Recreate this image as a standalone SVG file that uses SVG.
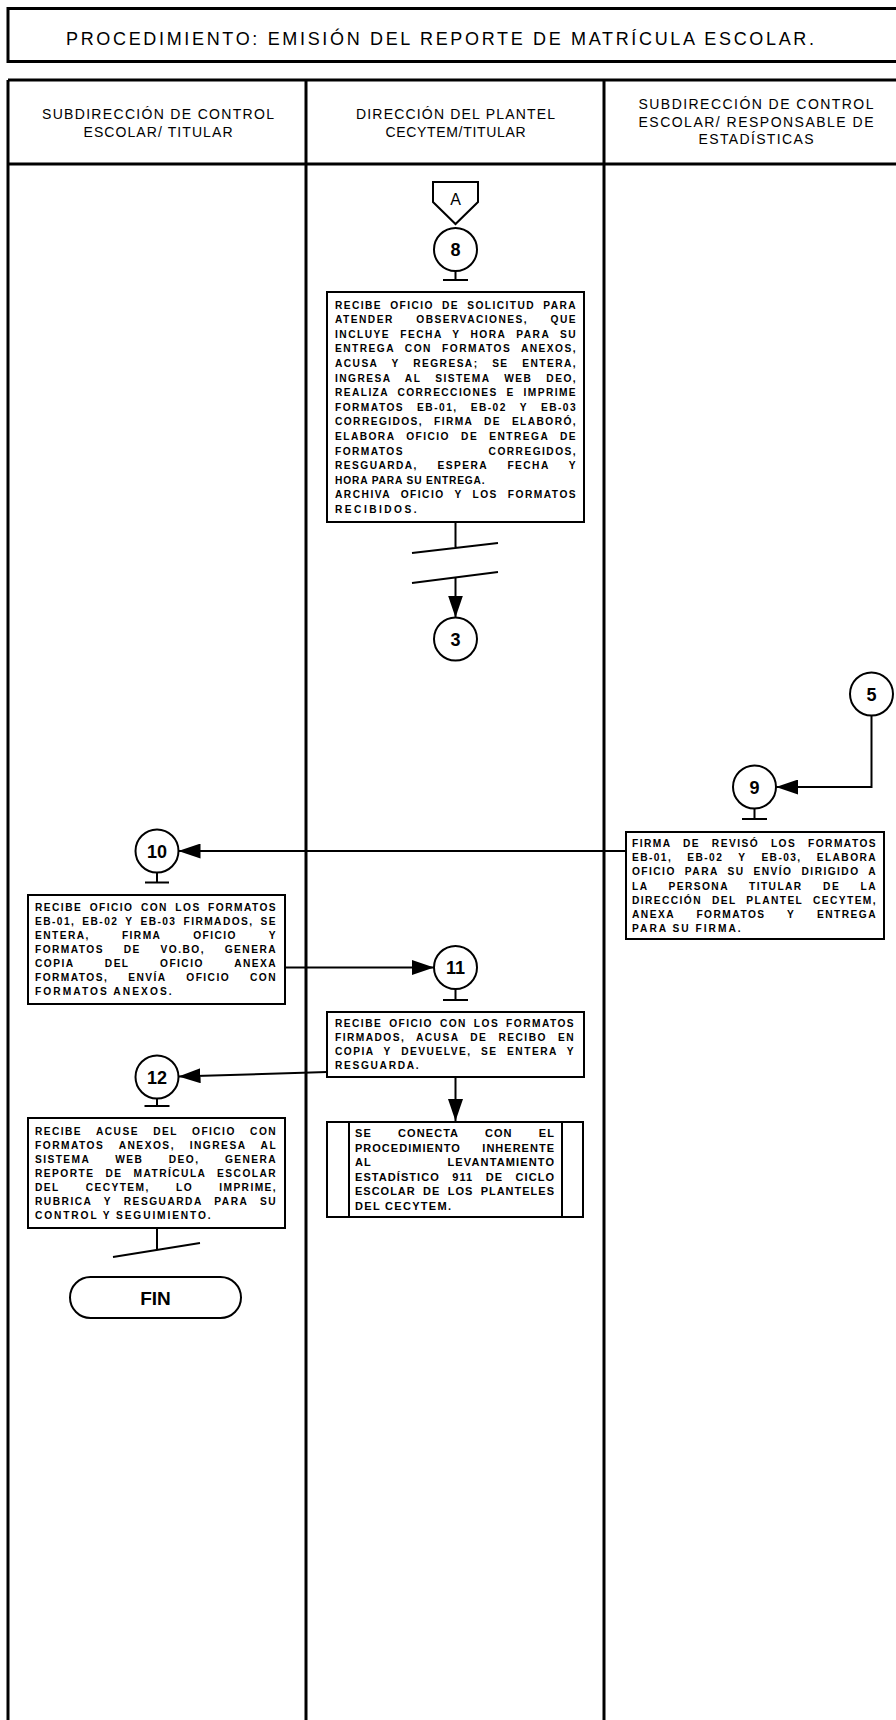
<svg xmlns="http://www.w3.org/2000/svg" width="896" height="1720" viewBox="0 0 896 1720">
<defs>
<style>
.lane{stroke:#000;stroke-width:3;fill:none}
.box{fill:#fff;stroke:#000;stroke-width:2}
.cir{fill:#fff;stroke:#000;stroke-width:2}
.ln{stroke:#000;stroke-width:2;fill:none}
.t{font-family:"Liberation Sans",Arial,sans-serif;font-weight:bold;font-size:10.2px;letter-spacing:1.4px;fill:#000}
.t2{font-family:"Liberation Sans",Arial,sans-serif;font-weight:bold;font-size:11px;letter-spacing:1px;fill:#000}
.num{font-family:"Liberation Sans",Arial,sans-serif;font-weight:bold;font-size:18px;text-anchor:middle;fill:#000}
.hd{font-family:"Liberation Sans",Arial,sans-serif;font-size:14px;text-anchor:middle;fill:#000}
.ttl{font-family:"Liberation Sans",Arial,sans-serif;font-size:18px;text-anchor:middle;fill:#000}
</style>
<marker id="arr" markerUnits="userSpaceOnUse" markerWidth="22" markerHeight="15" refX="22" refY="7.5" orient="auto">
<path d="M0,0 L22,7.5 L0,15 Z" fill="#000"/>
</marker>
</defs>
<rect width="896" height="1720" fill="#fff"/>

<g id="title">
<rect class="lane" x="8" y="8.5" width="900" height="53"/>
<text class="ttl" x="440" y="45" textLength="748" lengthAdjust="spacing">PROCEDIMIENTO: EMISIÓN DEL REPORTE DE MATRÍCULA ESCOLAR.</text>
</g>

<g id="lanes">
<path class="lane" d="M8,80 H900 M8,164 H900 M8,80 V1720 M306,80 V1720 M604,80 V1720"/>
<text class="hd" x="158" y="119" textLength="232" lengthAdjust="spacing">SUBDIRECCIÓN DE CONTROL</text>
<text class="hd" x="158" y="136.6" textLength="149" lengthAdjust="spacing">ESCOLAR/ TITULAR</text>
<text class="hd" x="455.5" y="119" textLength="199" lengthAdjust="spacing">DIRECCIÓN DEL PLANTEL</text>
<text class="hd" x="455.5" y="136.6" textLength="140" lengthAdjust="spacing">CECYTEM/TITULAR</text>
<text class="hd" x="756" y="109.2" textLength="235" lengthAdjust="spacing">SUBDIRECCIÓN DE CONTROL</text>
<text class="hd" x="756" y="126.7" textLength="235" lengthAdjust="spacing">ESCOLAR/ RESPONSABLE DE</text>
<text class="hd" x="756" y="144.3" textLength="115" lengthAdjust="spacing">ESTADÍSTICAS</text>
</g>

<g id="connectors">
<path class="ln" d="M455.5,271 V280 M443,280 H468"/>
<path class="ln" d="M455.5,522 V548 M412,553 L498,543 M412,583 L498,572"/>
<path class="ln" d="M455.5,578 V617.5" marker-end="url(#arr)"/>
<path class="ln" d="M871.5,715.5 V787 H776" marker-end="url(#arr)"/>
<path class="ln" d="M754.5,808.5 V819 M742,819 H767"/>
<path class="ln" d="M626,851 H178.5" marker-end="url(#arr)"/>
<path class="ln" d="M157,872.5 V882.5 M145,882.5 H169"/>
<path class="ln" d="M285,967.5 H434" marker-end="url(#arr)"/>
<path class="ln" d="M455.5,989 V1000 M443,1000 H468"/>
<path class="ln" d="M327,1072 L178.5,1076.5" marker-end="url(#arr)"/>
<path class="ln" d="M157,1098.5 V1106 M144.5,1106 H169.5"/>
<path class="ln" d="M455.5,1077 V1121" marker-end="url(#arr)"/>
<path class="ln" d="M157,1228 V1249 M113,1257 L200,1243"/>
</g>

<g id="nodeA">
<path class="cir" d="M433,182 H478 V202 L455.5,224 L433,202 Z"/>
<text x="455.5" y="205" font-family="Liberation Sans, Arial, sans-serif" font-size="16" text-anchor="middle">A</text>
</g>

<g id="node8">
<circle class="cir" cx="455.5" cy="249.5" r="21.5"/>
<text class="num" x="455.5" y="256">8</text>
</g>

<g id="box8">
<rect class="box" x="327" y="292" width="257" height="230"/>
<text class="t" x="335" y="308.5" textLength="242" lengthAdjust="spacing" word-spacing="3.9">RECIBE OFICIO DE SOLICITUD PARA</text>
<text class="t" x="335" y="323.1" textLength="242" lengthAdjust="spacing" word-spacing="18.2">ATENDER OBSERVACIONES, QUE</text>
<text class="t" x="335" y="337.7" textLength="242" lengthAdjust="spacing" word-spacing="5.8">INCLUYE FECHA Y HORA PARA SU</text>
<text class="t" x="335" y="352.3" textLength="242" lengthAdjust="spacing" word-spacing="5.9">ENTREGA CON FORMATOS ANEXOS,</text>
<text class="t" x="335" y="366.9" textLength="242" lengthAdjust="spacing" word-spacing="9.4">ACUSA Y REGRESA; SE ENTERA,</text>
<text class="t" x="335" y="381.5" textLength="242" lengthAdjust="spacing" word-spacing="9.7">INGRESA AL SISTEMA WEB DEO,</text>
<text class="t" x="335" y="396.1" textLength="242" lengthAdjust="spacing" word-spacing="4.6">REALIZA CORRECCIONES E IMPRIME</text>
<text class="t" x="335" y="410.7" textLength="242" lengthAdjust="spacing" word-spacing="8.8">FORMATOS EB-01, EB-02 Y EB-03</text>
<text class="t" x="335" y="425.3" textLength="242" lengthAdjust="spacing" word-spacing="6.7">CORREGIDOS, FIRMA DE ELABORÓ,</text>
<text class="t" x="335" y="439.9" textLength="242" lengthAdjust="spacing" word-spacing="6.9">ELABORA OFICIO DE ENTREGA DE</text>
<text class="t" x="335" y="454.5" textLength="242" lengthAdjust="spacing" word-spacing="80.3">FORMATOS CORREGIDOS,</text>
<text class="t" x="335" y="469.1" textLength="242" lengthAdjust="spacing" word-spacing="15.4">RESGUARDA, ESPERA FECHA Y</text>
<text class="t" x="335" y="483.7" textLength="151" lengthAdjust="spacing">HORA PARA SU ENTREGA.</text>
<text class="t" x="335" y="498.3" textLength="242" lengthAdjust="spacing" word-spacing="5.6">ARCHIVA OFICIO Y LOS FORMATOS</text>
<text class="t" x="335" y="512.9" textLength="83" lengthAdjust="spacing">RECIBIDOS.</text>
</g>

<g id="node3">
<circle class="cir" cx="455.5" cy="639" r="21.5"/>
<text class="num" x="455.5" y="645.5">3</text>
</g>

<g id="node5">
<circle class="cir" cx="871.5" cy="694" r="21.5"/>
<text class="num" x="871.5" y="700.5">5</text>
</g>

<g id="node9">
<circle class="cir" cx="754.5" cy="787" r="21.5"/>
<text class="num" x="754.5" y="793.5">9</text>
</g>

<g id="box9">
<rect class="box" x="626" y="832" width="258" height="107"/>
<text class="t" x="632" y="847" textLength="245" lengthAdjust="spacing" word-spacing="7.5">FIRMA DE REVISÓ LOS FORMATOS</text>
<text class="t" x="632" y="861.2" textLength="245" lengthAdjust="spacing" word-spacing="10.9">EB-01, EB-02 Y EB-03, ELABORA</text>
<text class="t" x="632" y="875.4" textLength="245" lengthAdjust="spacing" word-spacing="4.8">OFICIO PARA SU ENVÍO DIRIGIDO A</text>
<text class="t" x="632" y="889.6" textLength="245" lengthAdjust="spacing" word-spacing="16.2">LA PERSONA TITULAR DE LA</text>
<text class="t" x="632" y="903.8" textLength="245" lengthAdjust="spacing" word-spacing="5.7">DIRECCIÓN DEL PLANTEL CECYTEM,</text>
<text class="t" x="632" y="918" textLength="245" lengthAdjust="spacing" word-spacing="17.4">ANEXA FORMATOS Y ENTREGA</text>
<text class="t" x="632" y="932.2" textLength="110" lengthAdjust="spacing">PARA SU FIRMA.</text>
</g>

<g id="node10">
<circle class="cir" cx="157" cy="851" r="21.5"/>
<text class="num" x="157" y="857.5">10</text>
</g>

<g id="box10">
<rect class="box" x="28" y="895" width="257" height="109"/>
<text class="t" x="35" y="911" textLength="242" lengthAdjust="spacing" word-spacing="3.2">RECIBE OFICIO CON LOS FORMATOS</text>
<text class="t" x="35" y="925" textLength="242" lengthAdjust="spacing" word-spacing="2.9">EB-01, EB-02 Y EB-03 FIRMADOS, SE</text>
<text class="t" x="35" y="939" textLength="242" lengthAdjust="spacing" word-spacing="27.9">ENTERA, FIRMA OFICIO Y</text>
<text class="t" x="35" y="953" textLength="242" lengthAdjust="spacing" word-spacing="15.5">FORMATOS DE VO.BO, GENERA</text>
<text class="t" x="35" y="967" textLength="242" lengthAdjust="spacing" word-spacing="26.4">COPIA DEL OFICIO ANEXA</text>
<text class="t" x="35" y="981" textLength="242" lengthAdjust="spacing" word-spacing="15.7">FORMATOS, ENVÍA OFICIO CON</text>
<text class="t" x="35" y="995" textLength="138" lengthAdjust="spacing">FORMATOS ANEXOS.</text>
</g>

<g id="node11">
<circle class="cir" cx="455.5" cy="967.5" r="21.5"/>
<text class="num" x="455.5" y="974">11</text>
</g>

<g id="box11">
<rect class="box" x="327" y="1012" width="257" height="65"/>
<text class="t" x="335" y="1027" textLength="240" lengthAdjust="spacing" word-spacing="2.7">RECIBE OFICIO CON LOS FORMATOS</text>
<text class="t" x="335" y="1041" textLength="240" lengthAdjust="spacing" word-spacing="6.9">FIRMADOS, ACUSA DE RECIBO EN</text>
<text class="t" x="335" y="1055" textLength="240" lengthAdjust="spacing" word-spacing="5.2">COPIA Y DEVUELVE, SE ENTERA Y</text>
<text class="t" x="335" y="1069" textLength="85" lengthAdjust="spacing">RESGUARDA.</text>
</g>

<g id="node12">
<circle class="cir" cx="157" cy="1077" r="21.5"/>
<text class="num" x="157" y="1083.5">12</text>
</g>

<g id="box12">
<rect class="box" x="28" y="1118" width="257" height="110"/>
<text class="t" x="35" y="1134.5" textLength="242" lengthAdjust="spacing" word-spacing="10.1">RECIBE ACUSE DEL OFICIO CON</text>
<text class="t" x="35" y="1148.5" textLength="242" lengthAdjust="spacing" word-spacing="10.4">FORMATOS ANEXOS, INGRESA AL</text>
<text class="t" x="35" y="1162.5" textLength="242" lengthAdjust="spacing" word-spacing="21.2">SISTEMA WEB DEO, GENERA</text>
<text class="t" x="35" y="1176.5" textLength="242" lengthAdjust="spacing" word-spacing="6.8">REPORTE DE MATRÍCULA ESCOLAR</text>
<text class="t" x="35" y="1190.5" textLength="242" lengthAdjust="spacing" word-spacing="22">DEL CECYTEM, LO IMPRIME,</text>
<text class="t" x="35" y="1204.5" textLength="242" lengthAdjust="spacing" word-spacing="7.6">RUBRICA Y RESGUARDA PARA SU</text>
<text class="t" x="35" y="1218.5" textLength="177" lengthAdjust="spacing">CONTROL Y SEGUIMIENTO.</text>
</g>

<g id="box13">
<rect class="box" x="327" y="1122" width="256" height="95"/>
<path class="ln" d="M349,1122 V1217 M562,1122 V1217"/>
<text class="t2" x="355" y="1137" textLength="200" lengthAdjust="spacing" word-spacing="22.1">SE CONECTA CON EL</text>
<text class="t2" x="355" y="1151.6" textLength="200" lengthAdjust="spacing" word-spacing="17.4">PROCEDIMIENTO INHERENTE</text>
<text class="t2" x="355" y="1166.2" textLength="200" lengthAdjust="spacing" word-spacing="71.6">AL LEVANTAMIENTO</text>
<text class="t2" x="355" y="1180.8" textLength="200" lengthAdjust="spacing" word-spacing="8.3">ESTADÍSTICO 911 DE CICLO</text>
<text class="t2" x="355" y="1195.4" textLength="200" lengthAdjust="spacing" word-spacing="3.3">ESCOLAR DE LOS PLANTELES</text>
<text class="t2" x="355" y="1210" textLength="97" lengthAdjust="spacing">DEL CECYTEM.</text>
</g>

<g id="fin">
<rect class="box" x="70" y="1277" width="171" height="41" rx="20.5"/>
<text x="155.5" y="1304.5" font-family="Liberation Sans, Arial, sans-serif" font-size="19" font-weight="bold" text-anchor="middle">FIN</text>
</g>
</svg>
